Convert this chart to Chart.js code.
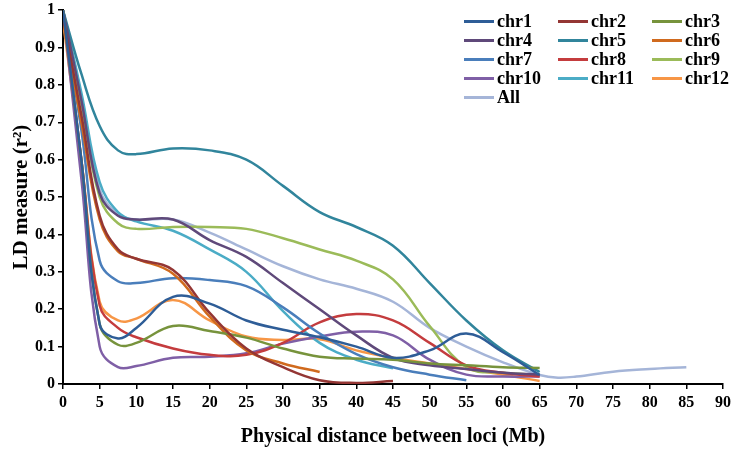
<!DOCTYPE html>
<html>
<head>
<meta charset="utf-8">
<script src="https://cdn.jsdelivr.net/npm/chart.js@4.4.0/dist/chart.umd.min.js"></script>
<style>
  body { margin: 0; background: #fff; }
  #wrap { position: relative; width: 737px; height: 450px; }
  #legend {
    position: absolute; left: 464px; top: 12px;
    display: grid; grid-template-columns: 94px 94px 94px; grid-auto-rows: 19px;
    font: bold 18px "Liberation Serif", "Times New Roman", serif; color: #000;
  }
  #legend .item { display: flex; align-items: center; white-space: nowrap; }
  #legend .swatch { display: inline-block; width: 30px; height: 3px; margin-right: 3px; }
</style>
</head>
<body>
<div id="wrap">
  <canvas id="myChart" width="737" height="450"></canvas>
  <div id="legend"></div>
</div>
<script>
// distances (Mb) shared by all series, a series stops where its array ends
const distances = [0, 2.5, 5, 7.5, 10, 15, 20, 25, 30, 35, 40, 45, 50, 55, 60, 65, 67.5, 70, 75, 80, 85];

const chr1  = [1, 0.6, 0.16, 0.122, 0.15, 0.233, 0.215, 0.17, 0.145, 0.125, 0.1, 0.07, 0.09, 0.135, 0.085, 0.024];
const chr2  = [0.98, 0.72, 0.45, 0.36, 0.335, 0.305, 0.19, 0.095, 0.045, 0.01, 0.003, 0.008];
const chr3  = [1, 0.6, 0.16, 0.105, 0.11, 0.155, 0.142, 0.124, 0.095, 0.073, 0.068, 0.065, 0.055, 0.05, 0.045, 0.043];
const chr4  = [1, 0.76, 0.51, 0.45, 0.44, 0.44, 0.385, 0.34, 0.27, 0.2, 0.13, 0.07, 0.05, 0.04, 0.03, 0.025];
const chr5  = [1, 0.83, 0.69, 0.625, 0.615, 0.63, 0.625, 0.6, 0.53, 0.46, 0.42, 0.37, 0.27, 0.17, 0.09, 0.032];
const chr6  = [0.97, 0.7, 0.44, 0.355, 0.335, 0.295, 0.18, 0.09, 0.055, 0.032];
const chr7  = [1, 0.68, 0.33, 0.275, 0.27, 0.283, 0.278, 0.262, 0.205, 0.135, 0.08, 0.045, 0.025, 0.01];
const chr8  = [1, 0.6, 0.21, 0.15, 0.125, 0.095, 0.078, 0.078, 0.11, 0.165, 0.187, 0.17, 0.11, 0.05, 0.03, 0.02];
const chr9  = [1, 0.75, 0.5, 0.43, 0.415, 0.42, 0.42, 0.415, 0.39, 0.36, 0.33, 0.28, 0.155, 0.045, 0.03, 0.025];
const chr10 = [1, 0.55, 0.1, 0.045, 0.048, 0.07, 0.073, 0.082, 0.108, 0.127, 0.14, 0.13, 0.065, 0.025, 0.02, 0.02];
const chr11 = [1, 0.78, 0.54, 0.46, 0.435, 0.41, 0.36, 0.3, 0.195, 0.11, 0.065, 0.042];
const chr12 = [0.97, 0.6, 0.22, 0.17, 0.175, 0.225, 0.17, 0.127, 0.118, 0.12, 0.09, 0.07, 0.055, 0.04, 0.025, 0.008];
const all   = [1, 0.77, 0.52, 0.455, 0.44, 0.44, 0.405, 0.36, 0.315, 0.28, 0.255, 0.22, 0.15, 0.1, 0.058, 0.024, 0.017, 0.02, 0.033, 0.04, 0.045];

const seriesNames = ['chr1', 'chr2', 'chr3', 'chr4', 'chr5', 'chr6', 'chr7', 'chr8', 'chr9', 'chr10', 'chr11', 'chr12', 'All'];
const seriesValues = [chr1, chr2, chr3, chr4, chr5, chr6, chr7, chr8, chr9, chr10, chr11, chr12, all];
const colors = ['#2E5D97', '#943634', '#77933C', '#5F497A', '#31859C', '#D06A1E',
                '#4A7EBB', '#C43C3E', '#9BBB59', '#7F5FA6', '#4BACC6', '#F79646', '#A5B5D8'];

const yTicks = [0, 0.1, 0.2, 0.3, 0.4, 0.5, 0.6, 0.7, 0.8, 0.9, 1];

const serif = '"Liberation Serif", "Times New Roman", serif';

const datasets = seriesNames.map((name, i) => ({
    label: name,
    data: seriesValues[i].map((v, j) => ({ x: distances[j], y: v })),
    borderColor: colors[i],
    backgroundColor: colors[i],
    borderWidth: 2.5,
    pointRadius: 0,
    tension: 0.4,
    fill: false
}));

const ctx = document.getElementById('myChart').getContext('2d');
const myChart = new Chart(ctx, {
    type: 'line',
    data: { datasets: datasets },
    options: {
        responsive: false,
        animation: false,
        layout: { padding: { top: 2, right: 14, left: 0, bottom: 0 } },
        plugins: {
            legend: { display: false },
            tooltip: { enabled: false }
        },
        scales: {
            x: {
                type: 'linear',
                min: 0,
                max: 90,
                ticks: { stepSize: 5, color: '#000', font: { family: serif, size: 16, weight: 'bold' }, padding: 4, maxRotation: 0 },
                grid: { display: true, drawOnChartArea: false, drawTicks: true, tickLength: 5, color: '#000', lineWidth: 1.5 },
                border: { display: true, color: '#000', width: 2 },
                title: { display: true, text: 'Physical distance between loci (Mb)', color: '#000',
                         font: { family: serif, size: 20, weight: 'bold' }, padding: { top: 0, bottom: 1 } },
                afterFit: s => { s.height = 66; }
            },
            y: {
                min: 0,
                max: 1,
                afterBuildTicks: s => { s.ticks = yTicks.map(v => ({ value: v })); },
                ticks: { color: '#000', font: { family: serif, size: 16, weight: 'bold', lineHeight: 0.9 }, padding: 3,
                         callback: v => String(Math.round(v * 10) / 10) },
                grid: { display: true, drawOnChartArea: false, drawTicks: true, tickLength: 5, color: '#000', lineWidth: 1.5 },
                border: { display: true, color: '#000', width: 2 },
                title: { display: true, text: 'LD measure (r\u00B2)', color: '#000',
                         font: { family: serif, size: 21, weight: 'bold' }, padding: { top: 9, bottom: 0 } },
                afterFit: s => { s.width = 63; }
            }
        }
    }
});

// legend in three columns, built from the datasets
const legend = document.getElementById('legend');
myChart.data.datasets.forEach(ds => {
    const item = document.createElement('div');
    item.className = 'item';
    item.innerHTML = '<span class="swatch" style="background:' + ds.borderColor + '"></span>' + ds.label;
    legend.appendChild(item);
});
</script>
</body>
</html>
